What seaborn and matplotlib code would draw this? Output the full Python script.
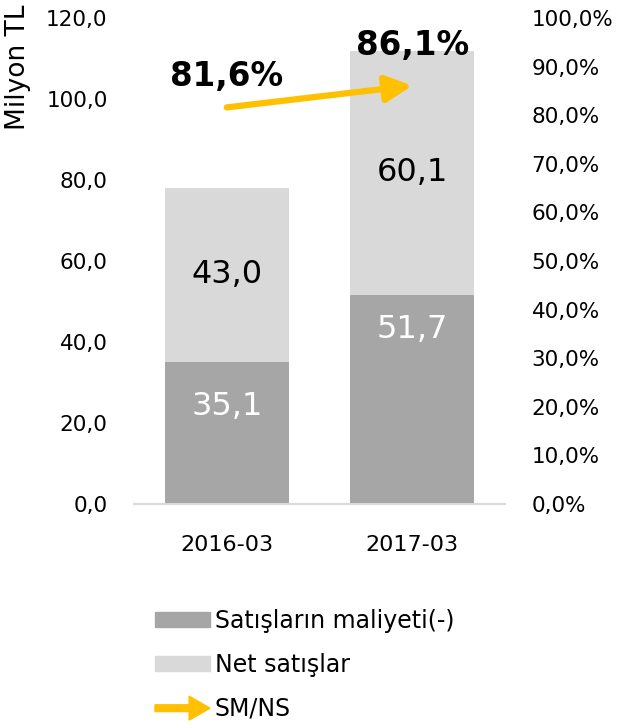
"""
Satışların maliyeti / Net satışlar - stacked bar with SM/NS arrow
"""

import matplotlib
matplotlib.use('Agg')
import matplotlib.pyplot as plt
import matplotlib.patches as mpatches
from matplotlib.legend_handler import HandlerPatch
from matplotlib.ticker import FuncFormatter, MultipleLocator
import seaborn as sns
import pandas as pd

# Data
periods = ['2016-03', '2017-03']
cost_of_sales = [35.1, 51.7]      # Satışların maliyeti(-)
net_sales = [43.0, 60.1]          # Net satışlar
sm_ns = [81.6, 86.1]              # SM/NS (%)

DARK = '#a6a6a6'
LIGHT = '#d9d9d9'
ORANGE = '#ffc000'

sns.set_style("white")
plt.rcParams['font.family'] = ['DejaVu Sans']
plt.rcParams['text.color'] = 'black'
plt.rcParams['xtick.color'] = 'black'
plt.rcParams['ytick.color'] = 'black'

df = pd.DataFrame({'period': periods, 'cost': cost_of_sales, 'net': net_sales})
df['total'] = df['cost'] + df['net']

fig = plt.figure(figsize=(6.19, 7.28), dpi=100)
ax = fig.add_axes([0.2165, 0.3077, 0.5995, 0.6676])

# stacked: total bar first (light), cost bar on top (dark)
sns.barplot(data=df, x='period', y='total', color=LIGHT, width=0.67,
            saturation=1, ax=ax, edgecolor='none')
sns.barplot(data=df, x='period', y='cost', color=DARK, width=0.67,
            saturation=1, ax=ax, edgecolor='none')

ax.set_ylim(0, 120)
ax.set_xlim(-0.5, 1.5)
ax.yaxis.set_major_locator(MultipleLocator(20))
ax.yaxis.set_major_formatter(FuncFormatter(lambda v, p: f'{v:.1f}'.replace('.', ',')))
ax.set_xlabel('')
ax.set_ylabel('')
ax.tick_params(axis='both', length=0, labelsize=15.5, colors='black')
ax.tick_params(axis='x', labelsize=16, pad=22)
ax.tick_params(axis='y', pad=19)
for side in ['top', 'right', 'left']:
    ax.spines[side].set_visible(False)
ax.spines['bottom'].set_color(LIGHT)
ax.spines['bottom'].set_linewidth(1.5)

# bar value labels
bottom_offsets = [-32, -25]
for i in range(len(periods)):
    ax.annotate(f'{cost_of_sales[i]:.1f}'.replace('.', ','),
                xy=(i, cost_of_sales[i]), xytext=(0, bottom_offsets[i]),
                textcoords='offset points', ha='center', va='center',
                fontsize=23, color='white')
    ax.text(i, cost_of_sales[i] + net_sales[i] / 2,
            f'{net_sales[i]:.1f}'.replace('.', ','),
            ha='center', va='center', fontsize=23, color='black')

# secondary axis for SM/NS
ax2 = ax.twinx()
ax2.set_ylim(0, 100)
ax2.yaxis.set_major_locator(MultipleLocator(10))
ax2.yaxis.set_major_formatter(FuncFormatter(lambda v, p: f'{v:.1f}%'.replace('.', ',')))
ax2.tick_params(axis='y', length=0, labelsize=15.5, pad=19, colors='black')
for side in ['top', 'right', 'left', 'bottom']:
    ax2.spines[side].set_visible(False)

ax2.annotate('', xy=(1, sm_ns[1]), xytext=(0, sm_ns[0]),
             arrowprops=dict(arrowstyle='-|>,head_width=0.4,head_length=0.8',
                             lw=4.5, color=ORANGE, shrinkA=0, shrinkB=0,
                             mutation_scale=20))
label_offsets = [22, 29]
for i, v in enumerate(sm_ns):
    ax2.annotate(f'{v:.1f}%'.replace('.', ','), xy=(i, v),
                 xytext=(0, label_offsets[i]), textcoords='offset points',
                 ha='center', va='center', fontsize=23.5, fontweight='bold',
                 color='black')

fig.text(18 / 619, 1 - 5 / 728, 'Milyon TL', rotation=90, ha='center', va='top',
         fontsize=19, color='black')

# legend
def make_arrow(legend, orig_handle, xdescent, ydescent, width, height, fontsize):
    return mpatches.FancyArrow(0, height / 2, width, 0, width=height * 0.45,
                               head_width=height * 1.6, head_length=width * 0.38,
                               length_includes_head=True)

h_cost = mpatches.Patch(color=DARK)
h_net = mpatches.Patch(color=LIGHT)
h_arrow = mpatches.Patch(color=ORANGE)
fig.legend([h_cost, h_net, h_arrow],
           ['Satışların maliyeti(-)', 'Net satışlar', 'SM/NS'],
           handler_map={h_arrow: HandlerPatch(patch_func=make_arrow)},
           loc='upper left', bbox_to_anchor=(155 / 619, 1 - 609 / 728),
           frameon=False, fontsize=17, handlelength=2.33, handleheight=0.6,
           handletextpad=0.2, labelspacing=0.84, borderpad=0, borderaxespad=0,
           labelcolor='black')

fig.savefig('out.png', dpi=100)
plt.close(fig)
